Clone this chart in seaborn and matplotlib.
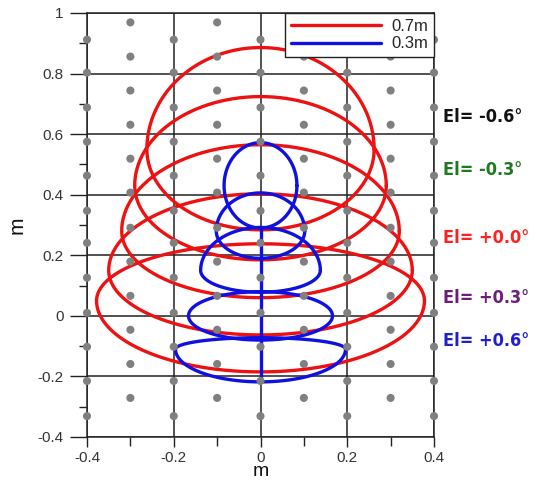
import numpy as np
import pandas as pd
import matplotlib
matplotlib.use("Agg")
import matplotlib.pyplot as plt
import seaborn as sns
from matplotlib.lines import Line2D
from matplotlib.ticker import MultipleLocator
from matplotlib import font_manager

sns.set_theme(style="white")
plt.rcParams['font.family'] = ['Liberation Sans', 'DejaVu Sans']

# Elevation settings, one footprint per elevation
elevations = ["-0.6", "-0.3", "+0.0", "+0.3", "+0.6"]
label_colors = ["#111111", "#1f7a1f", "#ff2020", "#6b1f78", "#1f1fd0"]

# Footprint outlines at 0.7 m (top, bottom, half-width, height of widest point)
far_top = [0.886, 0.724, 0.565, 0.403, 0.238]
far_bottom = [0.284, 0.185, 0.060, -0.063, -0.185]
far_halfwidth = [0.262, 0.290, 0.320, 0.350, 0.378]
far_widest_y = [0.55, 0.43, 0.28, 0.15, 0.05]

# Footprint outlines at 0.3 m
near_top = [0.572, 0.406, 0.292, 0.080, -0.072]
near_bottom = [0.290, 0.190, 0.078, -0.080, -0.218]
near_halfwidth = [0.084, 0.102, 0.138, 0.166, 0.196]
near_widest_y = [0.43, 0.28, 0.15, 0.00, -0.11]

# Central seam of the 0.3 m outlines
seam_y = [-0.218, 0.290]

# Spot lattice (grey markers)
even_x = [-0.4, -0.2, 0.0, 0.2, 0.4]
even_y = [0.912, 0.803, 0.688, 0.575, 0.463, 0.347, 0.241, 0.126, 0.010,
          -0.102, -0.215, -0.331]
odd_x = [-0.3, -0.1, 0.1, 0.3]
odd_y = [0.969, 0.856, 0.744, 0.631, 0.519, 0.407, 0.291, 0.179, 0.066,
         -0.046, -0.159, -0.271]

x_ticks = [-0.4, -0.2, 0, 0.2, 0.4]
y_ticks = [-0.4, -0.2, 0, 0.2, 0.4, 0.6, 0.8, 1]


def outline(top, bottom, half, yw, n=240):
    t = np.linspace(0, 2 * np.pi, n)
    s = np.sin(t)
    x = half * np.cos(t)
    y = np.where(s >= 0, yw + (top - yw) * s, yw + (yw - bottom) * s)
    return x, y


def narrow_bold_font():
    # prefer a condensed/narrow bold face for the elevation captions
    for f in font_manager.fontManager.ttflist:
        nm = f.name.lower()
        fn = f.fname.lower()
        if ("narrow" in nm or "condensed" in nm or "condensed" in fn or "narrow" in fn) \
                and ("bold" in fn or f.weight in ("bold", 700)):
            return font_manager.FontProperties(fname=f.fname)
    return None


rows = []
for i, el in enumerate(elevations):
    x, y = outline(far_top[i], far_bottom[i], far_halfwidth[i], far_widest_y[i])
    rows.append(pd.DataFrame({"x": x, "y": y, "range": "0.7m", "curve": f"far{el}"}))
    x, y = outline(near_top[i], near_bottom[i], near_halfwidth[i], near_widest_y[i])
    rows.append(pd.DataFrame({"x": x, "y": y, "range": "0.3m", "curve": f"near{el}"}))
rows.append(pd.DataFrame({"x": [0.0, 0.0], "y": seam_y, "range": "0.3m", "curve": "seam"}))
curves = pd.concat(rows, ignore_index=True)

spots = pd.concat([
    pd.DataFrame({"x": np.repeat(even_x, len(even_y)), "y": np.tile(even_y, len(even_x))}),
    pd.DataFrame({"x": np.repeat(odd_x, len(odd_y)), "y": np.tile(odd_y, len(odd_x))}),
], ignore_index=True)

palette = {"0.7m": "#ee1111", "0.3m": "#1010e0"}

fig = plt.figure(figsize=(5.36, 4.87), dpi=100)
ax = fig.add_axes([87 / 536, 50 / 487, 347 / 536, 424 / 487])

ax.grid(True, which="major", color="#222222", lw=1.1)
ax.set_axisbelow(True)

sns.lineplot(data=curves, x="x", y="y", hue="range", units="curve",
             estimator=None, sort=False, palette=palette, lw=2.4,
             legend=False, ax=ax, zorder=2)
sns.scatterplot(data=spots, x="x", y="y", color="#808080", s=34,
                marker="o", edgecolor="none", ax=ax, zorder=3, clip_on=False)

ax.set_xlim(-0.4, 0.4)
ax.set_ylim(-0.4, 1.0)
ax.set_xticks(x_ticks)
ax.set_yticks(y_ticks)
ax.set_xticklabels(["-0.4", "-0.2", "0", "0.2", "0.4"])
ax.set_yticklabels(["-0.4", "-0.2", "0", "0.2", "0.4", "0.6", "0.8", "1"])
ax.xaxis.set_minor_locator(MultipleLocator(0.1))
ax.yaxis.set_minor_locator(MultipleLocator(0.1))
ax.tick_params(axis="y", which="major", direction="out", length=12, width=1,
               color="#222222", labelsize=11, labelcolor="#333333", pad=5, left=True)
ax.tick_params(axis="y", which="minor", direction="out", length=6, width=1,
               color="#222222", left=True)
ax.tick_params(axis="x", which="major", direction="out", length=7, width=1,
               color="#222222", labelsize=11, labelcolor="#333333", pad=3, bottom=True)
ax.tick_params(axis="x", which="minor", direction="out", length=6.5, width=1,
               color="#222222", bottom=True)
for sp in ax.spines.values():
    sp.set_color("#222222")
    sp.set_linewidth(1.1)

ax.set_xlabel("m", fontsize=14, labelpad=-1, color="#111111")
ax.set_ylabel("m", fontsize=15, labelpad=8, color="#111111")

handles = [Line2D([], [], color=palette["0.7m"], lw=2.4),
           Line2D([], [], color=palette["0.3m"], lw=2.4)]
leg = ax.legend(handles, ["0.7m", "0.3m"], loc="upper right",
                bbox_to_anchor=(1.0, 1.0), borderaxespad=0, frameon=True,
                fancybox=False, framealpha=1, edgecolor="#222222",
                fontsize=12, handlelength=5.4, handletextpad=0.6,
                labelspacing=0.15, borderpad=0.35)
leg.get_frame().set_linewidth(1.0)
leg.set_zorder(5)

nfp = narrow_bold_font()
label_y = [117, 170, 238, 298, 341]
for el, c, py in zip(elevations, label_colors, label_y):
    kw = dict(color=c, va="center", ha="left")
    if nfp is not None:
        fp = nfp.copy()
        fp.set_size(13)
        kw["fontproperties"] = fp
    else:
        kw.update(fontsize=12, fontweight="bold", family=["Roboto", "DejaVu Sans"])
    fig.text(443 / 536, 1 - py / 487, f"El= {el}\u00b0", **kw)

fig.savefig("out.png", dpi=100)
